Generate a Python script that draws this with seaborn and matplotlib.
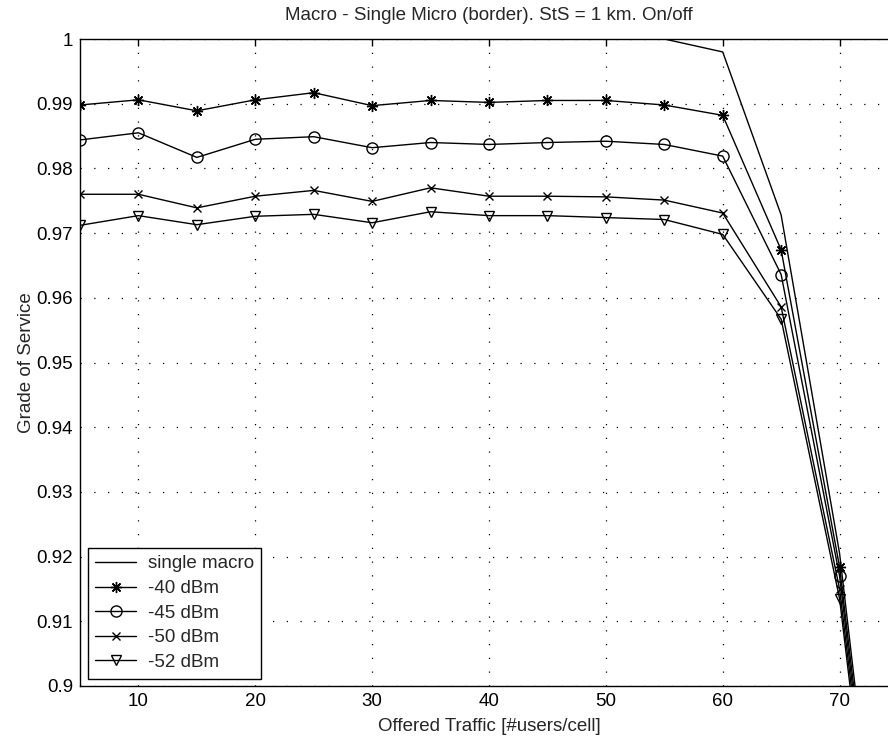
import numpy as np
import pandas as pd
import matplotlib
matplotlib.use('Agg')
import matplotlib.pyplot as plt
from matplotlib.ticker import FuncFormatter
import seaborn as sns

# data
traffic = [5, 10, 15, 20, 25, 30, 35, 40, 45, 50, 55, 60, 65, 70, 75]
single_macro = [1.0, 1.0, 1.0, 1.0, 1.0, 1.0, 1.0, 1.0, 1.0, 1.0, 1.0, 0.998, 0.9728, 0.9205, 0.843]
dbm_40 = [0.9898, 0.9906, 0.9889, 0.9906, 0.9917, 0.9897, 0.9905, 0.9902, 0.9905, 0.9905, 0.9898, 0.9882, 0.9674, 0.9184, 0.842]
dbm_45 = [0.9844, 0.9855, 0.9817, 0.9845, 0.9849, 0.9832, 0.9840, 0.9837, 0.9840, 0.9842, 0.9837, 0.9819, 0.9636, 0.9170, 0.840]
dbm_50 = [0.9760, 0.9760, 0.9739, 0.9757, 0.9766, 0.9749, 0.9770, 0.9757, 0.9757, 0.9756, 0.9751, 0.9731, 0.9586, 0.9150, 0.840]
dbm_52 = [0.9712, 0.9727, 0.9713, 0.9726, 0.9729, 0.9716, 0.9733, 0.9727, 0.9727, 0.9724, 0.9721, 0.9698, 0.9567, 0.9135, 0.838]

labels = ['single macro', '-40 dBm', '-45 dBm', '-50 dBm', '-52 dBm']
series = [single_macro, dbm_40, dbm_45, dbm_50, dbm_52]
markers = [None, (8, 2, 0), 'o', 'x', 'v']
msizes = [0, 8, 8, 6, 7]

sns.set_style('white')
plt.rcParams['font.family'] = ['Liberation Sans', 'DejaVu Sans']
fs = 13.5
plt.rcParams['font.size'] = fs

fig = plt.figure(figsize=(8.88, 7.46), dpi=100)
ax = fig.add_axes([80 / 888, 60 / 746, 818 / 888, 647 / 746])

for lab, vals, m, ms in zip(labels, series, markers, msizes):
    sns.lineplot(x=traffic, y=vals, ax=ax, color='k', linewidth=1.0, marker=m,
                 markersize=ms, markerfacecolor='none', markeredgecolor='k',
                 markeredgewidth=1.0, label=lab)

ax.set_xlim(5, 75)
ax.set_ylim(0.9, 1.0)
ax.set_xticks([10, 20, 30, 40, 50, 60, 70])
ax.set_yticks(np.round(np.arange(0.9, 1.0001, 0.01), 2))
ax.yaxis.set_major_formatter(FuncFormatter(lambda v, p: '%g' % round(v, 2)))
ax.grid(True, color='k', linestyle=(0, (1, 10)), linewidth=0.9)
ax.tick_params(direction='in', length=5, width=1, top=True, right=True,
               colors='k', labelsize=fs, pad=5)
for s in ax.spines.values():
    s.set_color('k')
    s.set_linewidth(1.0)

ax.set_title('Macro - Single Micro (border). StS = 1 km. On/off', fontsize=fs, pad=14)
ax.set_xlabel('Offered Traffic [#users/cell]', fontsize=fs, labelpad=6)
ax.set_ylabel('Grade of Service', fontsize=fs, labelpad=1)

leg = ax.legend(loc='lower left', fontsize=fs, frameon=True, fancybox=False,
                edgecolor='k', framealpha=1, borderaxespad=0.4, handlelength=2.2,
                handletextpad=0.6, labelspacing=0.4, borderpad=0.4)
leg.get_frame().set_linewidth(1.0)

fig.savefig('out.png', dpi=100)
